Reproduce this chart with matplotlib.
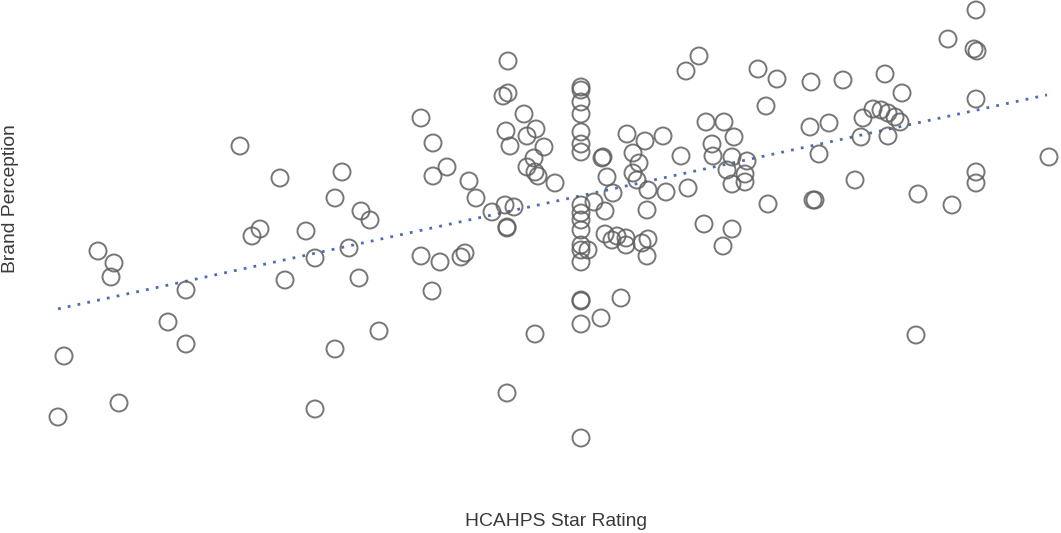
import matplotlib
matplotlib.use("Agg")
import matplotlib.pyplot as plt
import numpy as np

# star rating (x) and brand perception score (y) per hospital
star_rating = [
    58, 64, 119, 168, 186, 186, 98, 114, 111, 240, 280, 252, 260, 285, 306, 315,
    349, 359, 335, 379, 315, 342, 335, 361, 370, 421, 433, 447, 433, 469, 476,
    421, 440, 461, 465, 432,
    508, 503, 508, 524, 506, 536, 527, 510, 544, 534, 527, 535, 538, 555, 492,
    505, 514, 507, 507, 535, 507,
    581, 581, 581, 581, 581, 581, 581, 581, 581, 581, 581, 581, 581, 581, 581,
    581, 581, 581,
    588, 603, 602, 607, 594, 605, 613, 627, 645, 633, 639, 633, 637, 648, 647,
    663, 666, 681, 688, 605, 612, 617, 626, 626, 642, 648, 647, 621, 601,
    699, 686, 706, 724, 712, 713, 734, 727, 732, 732, 745, 745, 747, 704, 732,
    723,
    758, 777, 766, 768, 811, 810, 819, 813, 815, 843, 829, 855, 863, 861, 873,
    881, 888, 895, 900, 888, 885, 902, 916, 918, 952, 948, 976, 974, 977, 976,
    976, 976, 1049,
]
brand_perception = [
    116, 177, 130, 211, 189, 243, 282, 270, 256, 387, 355, 297, 304, 253, 302, 275,
    285, 255, 184, 202, 124, 361, 335, 322, 313, 415, 390, 366, 357, 352, 335,
    277, 271, 276, 280, 242,
    472, 437, 440, 419, 402, 404, 397, 387, 386, 375, 366, 361, 357, 350, 321,
    328, 326, 306, 305, 199, 140,
    446, 443, 431, 419, 401, 389, 381, 328, 320, 313, 303, 288, 283, 271, 233,
    232, 209, 95,
    283, 376, 375, 356, 331, 322, 340, 399, 392, 380, 370, 360, 353, 343, 323,
    397, 341, 377, 345, 299, 293, 297, 295, 288, 290, 294, 277, 235, 215,
    477, 462, 411, 411, 389, 377, 396, 363, 376, 349, 359, 351, 372, 309, 304,
    287,
    464, 454, 427, 329, 451, 406, 379, 333, 333, 453, 410, 353, 415, 396, 424,
    423, 420, 416, 411, 397, 459, 440, 198, 339, 328, 494, 523, 484, 482, 434,
    361, 350, 376,
]

x = np.array(star_rating, dtype=float)
y = np.array(brand_perception, dtype=float)

fig = plt.figure(figsize=(10.61, 5.33), dpi=100)
ax = fig.add_axes([25 / 1061, 38 / 533, 1036 / 1061, 495 / 533])

ax.scatter(x, y, s=150, facecolors="none", edgecolors="#5f5f5f",
           linewidths=1.4, alpha=0.85, zorder=3)

# least-squares trend line
slope, intercept = np.polyfit(x, y, 1)
xs = np.array([x.min(), x.max() - 2])
ax.plot(xs, slope * xs + intercept, color="#4a6db5",
        linestyle=(0, (1, 2.6)), linewidth=2.0, zorder=2)

ax.set_xlim(25, 1061)
ax.set_ylim(38, 533)
ax.set_xticks([])
ax.set_yticks([])
for side in ax.spines.values():
    side.set_visible(False)

label_font = dict(family="Liberation Sans", fontsize=13.9, color="#3a3a3a")
ax.set_xlabel("HCAHPS Star Rating", **label_font)
ax.set_ylabel("Brand Perception", **label_font)
ax.xaxis.set_label_coords(531 / 1036, -18 / 495)
ax.yaxis.set_label_coords(-6 / 1036, 296 / 495)

fig.savefig("out.png", dpi=100)
